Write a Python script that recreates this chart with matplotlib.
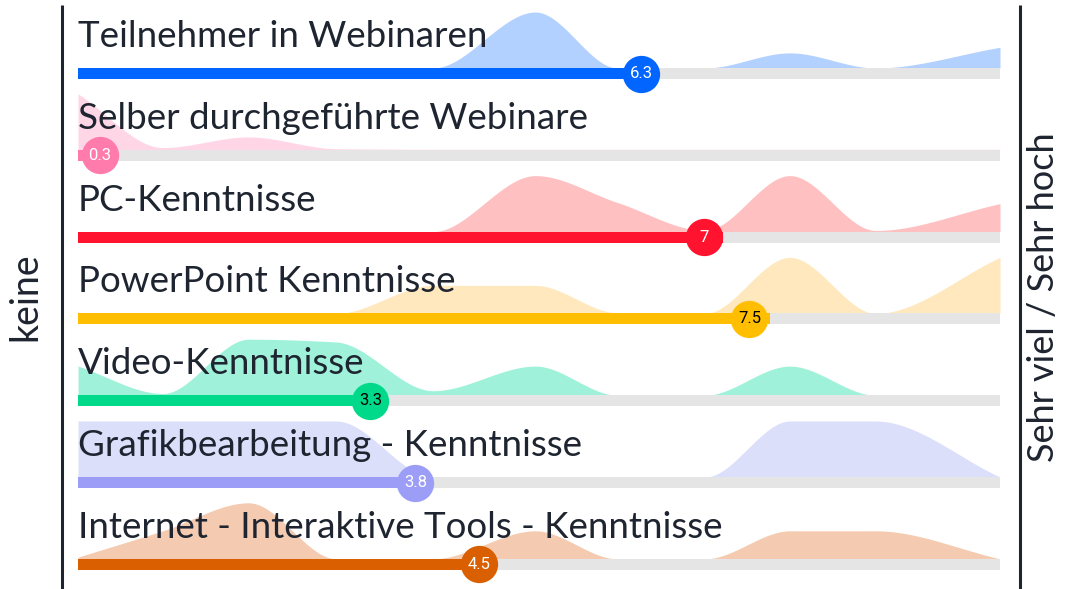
import matplotlib
matplotlib.use('Agg')
import matplotlib.pyplot as plt
import numpy as np

# row labels, shown values (0..10) and the shape of the answer distribution
labels = ['Teilnehmer in Webinaren', 'Selber durchgeführte Webinare', 'PC-Kenntnisse',
          'PowerPoint Kenntnisse', 'Video-Kenntnisse', 'Grafikbearbeitung - Kenntnisse',
          'Internet - Interaktive Tools - Kenntnisse']
values = [6.3, 0.3, 7, 7.5, 3.3, 3.8, 4.5]

knots = [0, 0.92, 1.85, 2.8, 3.85, 4.96, 5.85, 6.8, 7.72, 8.65, 10]
dist_teilnehmer = [0, 0, 0, 0, 0, 1, 0, 0, 0.27, 0, 0.37]
dist_selber = [1, 0.04, 0.23, 0.02, 0.01, 0.01, 0.01, 0.01, 0.01, 0.01, 0.01]
dist_pc = [0, 0, 0, 0, 0, 1, 0.52, 0.02, 1, 0.02, 0.5]
dist_ppt = [0, 0, 0, 0, 0.5, 0.5, 0.01, 0, 1, 0, 1]
dist_video = [0.52, 0.03, 1, 0.95, 0.08, 0.52, 0, 0, 0.52, 0, 0]
dist_grafik = [1, 1, 1, 1, 0, 0, 0, 0, 1, 1, 0]
dist_internet = [0.03, 0.5, 1, 0, 0, 0.5, 0, 0, 0.5, 0.5, 0]
dists = [dist_teilnehmer, dist_selber, dist_pc, dist_ppt, dist_video, dist_grafik, dist_internet]

colors = ['#0066FF', '#FF7BAC', '#FF132E', '#FFBF00', '#00D98A', '#9B9DF7', '#D95F00']
fills = ['#B3D1FF', '#FFD6E6', '#FFC0C2', '#FFE8BD', '#9FF2D9', '#DCDFFA', '#F4CBB0']
label_colors = ['white', 'white', 'white', 'black', 'black', 'white', 'white']

TEXT = '#1E2530'


def monotone(xk, yk, xs):
    # Fritsch-Carlson monotone cubic, like d3 curveMonotoneX
    xk = np.asarray(xk, float)
    yk = np.asarray(yk, float)
    h = np.diff(xk)
    d = np.diff(yk) / h
    m = np.zeros_like(yk)
    m[0], m[-1] = d[0], d[-1]
    for i in range(1, len(xk) - 1):
        if d[i - 1] * d[i] > 0:
            w1 = 2 * h[i] + h[i - 1]
            w2 = h[i] + 2 * h[i - 1]
            m[i] = (w1 + w2) / (w1 / d[i - 1] + w2 / d[i])
    idx = np.clip(np.searchsorted(xk, xs) - 1, 0, len(xk) - 2)
    t = (xs - xk[idx]) / h[idx]
    h00 = 2 * t**3 - 3 * t**2 + 1
    h10 = t**3 - 2 * t**2 + t
    h01 = -2 * t**3 + 3 * t**2
    h11 = t**3 - t**2
    return h00 * yk[idx] + h10 * h[idx] * m[idx] + h01 * yk[idx + 1] + h11 * h[idx] * m[idx + 1]


W, H = 1066, 589
fig = plt.figure(figsize=(W / 100, H / 100), dpi=100)
ax = fig.add_axes([0, 0, 1, 1])
px = 92.2  # pixels per unit on the 0..10 scale
ax.set_xlim(-78 / px, (W - 78) / px)
ax.set_ylim(H, 0)
ax.axis('off')

row_top = 68
row_gap = 81.8
peak = 56
track_h = 11
xs = np.linspace(0, 10, 500)

for i, (lab, v, dist) in enumerate(zip(labels, values, dists)):
    y0 = row_top + i * row_gap
    dens = np.clip(monotone(knots, dist, xs), 0, None)
    ax.fill_between(xs, y0, y0 - peak * dens, color=fills[i], lw=0, zorder=1)
    ax.fill_between([0, 10], y0, y0 + track_h, color='#E5E5E5', lw=0, zorder=2)
    ax.fill_between([0, v], y0, y0 + track_h, color=colors[i], lw=0, zorder=3)
    ax.text(0, y0 - 21, lab, fontsize=26.5, color=TEXT, family='Lato',
            va='baseline', ha='left', zorder=4)
    cx = v * 0.979 - 0.06
    ax.scatter([cx], [y0 + track_h / 2], s=720, color=colors[i], lw=0, zorder=5)
    ax.text(cx, y0 + track_h / 2, '{:g}'.format(v), fontsize=12, color=label_colors[i],
            family='Roboto', ha='center', va='center', zorder=6)

ax.plot([-16 / px, -16 / px], [5, H], color=TEXT, lw=2.2, solid_capstyle='butt')
ax.plot([942 / px, 942 / px], [5, H], color=TEXT, lw=2.2, solid_capstyle='butt')
ax.text(-53 / px, 297, 'keine', rotation=90, fontsize=27, color=TEXT, family='Lato',
        ha='center', va='center')
ax.text(966 / px, 297, 'Sehr viel / Sehr hoch', rotation=90, fontsize=26, color=TEXT,
        family='Lato', ha='center', va='center')

fig.savefig('out.png', dpi=100)
